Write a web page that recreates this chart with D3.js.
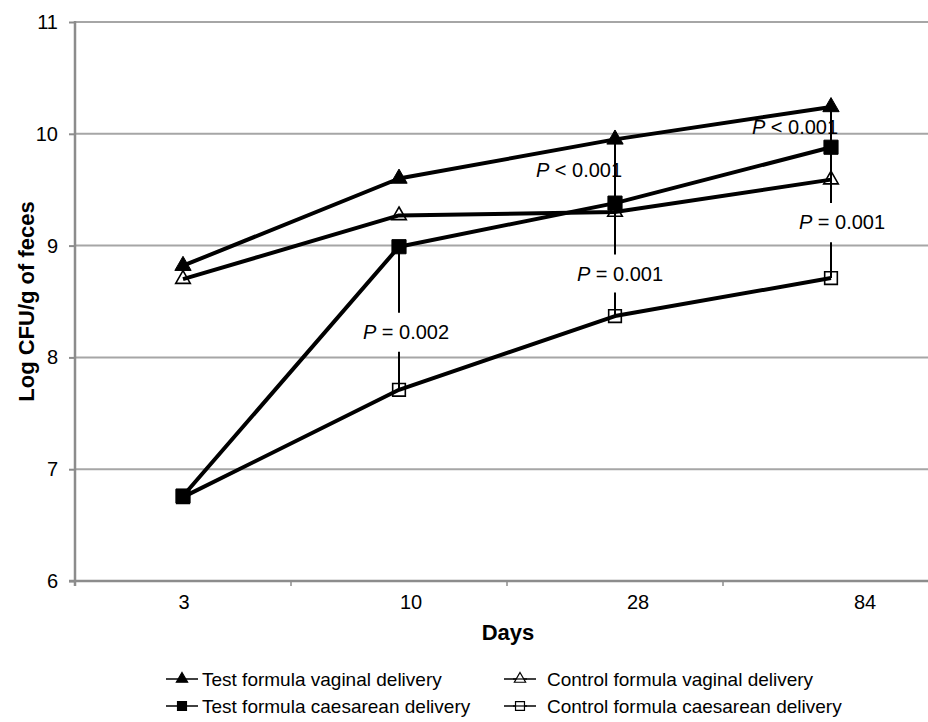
<!DOCTYPE html>
<html>
<head>
<meta charset="utf-8">
<script src="https://cdn.jsdelivr.net/npm/d3@7/dist/d3.min.js"></script>
<style>
  html, body { margin: 0; padding: 0; background: #fff; }
  svg { display: block; font-family: "Liberation Sans", Arial, sans-serif; }
</style>
</head>
<body>
<svg id="chart" width="928" height="722"></svg>
<script>
// ---- Data ----
const days = ["3", "10", "28", "84"];
const yTicks = [6, 7, 8, 9, 10, 11];
const testVaginal      = [8.82, 9.60, 9.95, 10.24];
const controlVaginal   = [8.70, 9.27, 9.30, 9.59];
const testCaesarean    = [6.76, 8.99, 9.38, 9.88];
const controlCaesarean = [6.75, 7.71, 8.37, 8.71];

const seriesNames = [
  "Test formula vaginal delivery",
  "Control formula vaginal delivery",
  "Test formula caesarean delivery",
  "Control formula caesarean delivery"
];

// significance annotations: vertical connector segments (in data units) and labels
const annotSegments = [
  { day: "10", from: 8.99, to: 8.40 }, { day: "10", from: 8.05, to: 7.71 },
  { day: "28", from: 9.95, to: 8.92 }, { day: "28", from: 8.58, to: 8.37 },
  { day: "84", from: 10.24, to: 9.38 }, { day: "84", from: 9.03, to: 8.71 }
];
const annotLabels = [
  { day: "10", at: 8.23,  op: "= 0.002" },
  { day: "28", at: 9.68,  op: "< 0.001" },
  { day: "28", at: 8.75,  op: "= 0.001" },
  { day: "84", at: 10.06, op: "< 0.001" },
  { day: "84", at: 9.21,  op: "= 0.001" }
];
const annotLabelDx = [7, -36, 5, -36, 11];

// ---- Layout ----
const svg = d3.select("#chart");
const mLeft = 75, mTop = 22, mBottom = 581, mRight = 928;

const x = d3.scaleBand().domain(days).range([mLeft, mLeft + 4 * 216]).paddingInner(0).paddingOuter(0);
const xLabel = d3.scalePoint().domain(days).range([184, 865]);
const y = d3.scaleLinear().domain([6, 11]).range([mBottom, mTop]);
const cx = d => x(d) + x.bandwidth() / 2;

const gridColor = "#a6a6a6", axisColor = "#8c8c8c";

// gridlines
svg.append("g").selectAll("line").data(yTicks.filter(t => t > 6)).join("line")
  .attr("x1", mLeft).attr("x2", mRight)
  .attr("y1", d => y(d)).attr("y2", d => y(d))
  .attr("stroke", gridColor).attr("stroke-width", 2);

// y axis
const yAxis = svg.append("g").attr("transform", `translate(${mLeft},0)`)
  .call(d3.axisLeft(y).tickValues(yTicks).tickSize(6).tickPadding(11).tickFormat(d3.format("d")));
yAxis.select(".domain").remove();
yAxis.selectAll(".tick line").attr("stroke", axisColor).attr("stroke-width", 2);
yAxis.selectAll(".tick text").attr("font-size", 20).attr("fill", "#000")
  .attr("font-family", "Liberation Sans, Arial, sans-serif");
svg.append("line").attr("x1", mLeft).attr("x2", mLeft).attr("y1", mTop - 1).attr("y2", mBottom + 5)
  .attr("stroke", axisColor).attr("stroke-width", 2.5);

// x axis line + ticks at category boundaries
svg.append("line").attr("x1", mLeft - 6).attr("x2", mRight).attr("y1", mBottom).attr("y2", mBottom)
  .attr("stroke", axisColor).attr("stroke-width", 2.5);
svg.append("g").selectAll("line").data(days).join("line")
  .attr("x1", d => x(d)).attr("x2", d => x(d))
  .attr("y1", mBottom).attr("y2", mBottom + 5)
  .attr("stroke", axisColor).attr("stroke-width", 1.5);
svg.append("g").selectAll("text").data(days).join("text")
  .attr("x", d => xLabel(d)).attr("y", 609)
  .attr("text-anchor", "middle").attr("font-size", 20).text(d => d);

// axis titles
svg.append("text").attr("x", 508).attr("y", 640)
  .attr("text-anchor", "middle").attr("font-size", 22).attr("font-weight", "bold").text("Days");
svg.append("text")
  .attr("transform", `translate(34,${(mTop + mBottom) / 2}) rotate(-90)`)
  .attr("text-anchor", "middle").attr("font-size", 22).attr("font-weight", "bold")
  .text("Log CFU/g of feces");

// annotation connectors
svg.append("g").selectAll("line").data(annotSegments).join("line")
  .attr("x1", d => cx(d.day)).attr("x2", d => cx(d.day))
  .attr("y1", d => y(d.from)).attr("y2", d => y(d.to))
  .attr("stroke", "#000").attr("stroke-width", 2);

// series
const series = [
  { name: seriesNames[1], values: controlVaginal, shape: d3.symbolTriangle, filled: false },
  { name: seriesNames[3], values: controlCaesarean, shape: d3.symbolSquare, filled: false },
  { name: seriesNames[2], values: testCaesarean, shape: d3.symbolSquare, filled: true },
  { name: seriesNames[0], values: testVaginal, shape: d3.symbolTriangle, filled: true }
];
const line = d3.line().x((v, i) => cx(days[i])).y(v => y(v));
const symSize = (s, scale) => (s === d3.symbolTriangle ? 115 : 200) * scale;

series.forEach(s => {
  svg.append("path").attr("d", line(s.values)).attr("fill", "none")
    .attr("stroke", "#000").attr("stroke-width", 4).attr("stroke-linejoin", "round");
});
series.forEach(s => {
  svg.append("g").selectAll("path").data(s.values).join("path")
    .attr("transform", (v, i) => `translate(${cx(days[i])},${y(v)})`)
    .attr("d", d3.symbol().type(s.shape).size(symSize(s.shape, s.filled ? 1 : 0.8)))
    .attr("fill", s.filled ? "#000" : "none")
    .attr("stroke", "#000").attr("stroke-width", s.filled ? 1 : 1.6);
});

// annotation labels
const lab = svg.append("g").selectAll("text").data(annotLabels).join("text")
  .attr("x", (d, i) => cx(d.day) + annotLabelDx[i]).attr("y", d => y(d.at))
  .attr("dy", "0.35em").attr("text-anchor", "middle").attr("font-size", 20);
lab.append("tspan").attr("font-style", "italic").text("P");
lab.append("tspan").text(d => " " + d.op);

// legend
const legendItems = [
  { name: seriesNames[0], shape: d3.symbolTriangle, filled: true,  lx: 166, tx: 36, ly: 679 },
  { name: seriesNames[1], shape: d3.symbolTriangle, filled: false, lx: 504, tx: 43, ly: 679 },
  { name: seriesNames[2], shape: d3.symbolSquare,   filled: true,  lx: 166, tx: 36, ly: 706 },
  { name: seriesNames[3], shape: d3.symbolSquare,   filled: false, lx: 504, tx: 43, ly: 706 }
];
const lg = svg.append("g").selectAll("g").data(legendItems).join("g")
  .attr("transform", d => `translate(${d.lx},${d.ly})`);
lg.append("line").attr("x1", 0).attr("x2", 32).attr("y1", 0).attr("y2", 0)
  .attr("stroke", "#000").attr("stroke-width", 1.5);
lg.append("path").attr("transform", "translate(16,0)")
  .attr("d", d => d3.symbol().type(d.shape).size(d.shape === d3.symbolTriangle ? 55 : 80)())
  .attr("fill", d => d.filled ? "#000" : "#fff").attr("stroke", "#000").attr("stroke-width", 1.2);
lg.filter(d => !d.filled).append("line").attr("x1", 9).attr("x2", 23).attr("y1", 0).attr("y2", 0)
  .attr("stroke", "#000").attr("stroke-width", 1.2);
lg.append("text").attr("x", d => d.tx).attr("y", 0).attr("dy", "0.35em")
  .attr("font-size", 19).text(d => d.name);
</script>
</body>
</html>
